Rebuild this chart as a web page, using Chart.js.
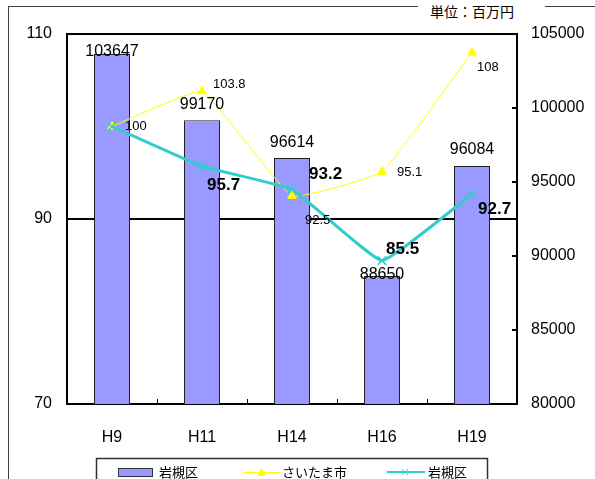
<!DOCTYPE html>
<html>
<head>
<meta charset="utf-8">
<script src="https://cdn.jsdelivr.net/npm/chart.js@4/dist/chart.umd.min.js"></script>
<style>
  html, body { margin: 0; padding: 0; background: #fff; overflow: hidden; }
  #wrap { position: relative; width: 595px; height: 479px; overflow: hidden; }
  #frame { position: absolute; left: 8px; top: 6px; width: 700px; height: 600px;
           border-top: 1px solid #404040; border-left: 1px solid #404040; }
  #unit { position: absolute; left: 418px; top: 0; width: 115px; height: 16px; padding: 4px 0 0 12px;
          background: #fff; font: 14px "Noto Sans CJK JP"; line-height: 14px; color: #000; }
  #chart { position: absolute; left: 0; top: 0; }
</style>
</head>
<body>
<div id="wrap">
  <div id="frame"></div>
  <div id="unit">単位：百万円</div>
  <canvas id="chart" width="595" height="479"></canvas>
</div>
<script>
// データ
const categories = ['H9', 'H11', 'H14', 'H16', 'H19'];
const seriesNames = ['岩槻区', 'さいたま市', '岩槻区'];
const iwatsukiAmount = [103647, 99170, 96614, 88650, 96084];   // 右軸 (百万円)
const saitamaIndex = [100, 103.8, 92.5, 95.1, 108];           // 左軸
const iwatsukiIndex = [100, 95.7, 93.2, 85.5, 92.7];           // 左軸
const leftTicks = [70, 90, 110];
const rightTicks = [80000, 85000, 90000, 95000, 100000, 105000];

const BAR_COLOR = '#9999ff';
const YELLOW = '#ffff00';
const CYAN = '#33cccc';

Chart.defaults.font.family = '"Liberation Sans", Arial, sans-serif';
Chart.defaults.font.size = 16;
Chart.defaults.color = '#000';

// 値ラベル (datalabels が無いので自前)
const valueLabels = {
    id: 'valueLabels',
    afterDatasetsDraw(chart, args, opts) {
        const ctx = chart.ctx;
        opts.sets.forEach(s => {
            const meta = chart.getDatasetMeta(s.index);
            const values = chart.data.datasets[s.index].data;
            ctx.save();
            ctx.font = s.font;
            ctx.fillStyle = '#000';
            ctx.textAlign = s.align;
            ctx.textBaseline = 'middle';
            meta.data.forEach((el, i) => {
                const off = s.shifts[i];
                if (!off) return;
                ctx.fillText(String(values[i]), el.x + off[0], el.y + off[1]);
            });
            ctx.restore();
        });
    }
};

// 目盛り線・凡例など
const extras = {
    id: 'extras',
    afterDraw(chart) {
        const ctx = chart.ctx;
        const area = chart.chartArea;
        const x = chart.scales.x;
        const y1 = chart.scales.y1;
        ctx.save();
        ctx.strokeStyle = '#000';

        // x軸の内向き目盛り
        ctx.lineWidth = 1;
        for (let i = 0; i < categories.length - 1; i++) {
            const px = Math.round((x.getPixelForValue(i) + x.getPixelForValue(i + 1)) / 2) + 0.5;
            ctx.beginPath();
            ctx.moveTo(px, area.bottom);
            ctx.lineTo(px, area.bottom - 5);
            ctx.stroke();
        }
        // 右軸の内向き目盛り
        ctx.lineWidth = 2;
        rightTicks.forEach(v => {
            const py = Math.round(y1.getPixelForValue(v));
            ctx.beginPath();
            ctx.moveTo(area.right - 5, py);
            ctx.lineTo(area.right, py);
            ctx.stroke();
        });

        // 凡例
        const ly = 472;
        ctx.strokeStyle = '#333';
        ctx.lineWidth = 1.5;
        ctx.strokeRect(96.5, 458.5, 391, 40);

        ctx.fillStyle = BAR_COLOR;
        ctx.fillRect(118, ly - 4, 35, 8);
        ctx.lineWidth = 1;
        ctx.strokeRect(118.5, ly - 3.5, 34, 8);

        ctx.strokeStyle = YELLOW;
        ctx.lineWidth = 1;
        ctx.beginPath(); ctx.moveTo(243, ly + 0.5); ctx.lineTo(280, ly + 0.5); ctx.stroke();
        ctx.fillStyle = YELLOW;
        ctx.beginPath();
        ctx.moveTo(261.5, ly - 4); ctx.lineTo(266, ly + 4); ctx.lineTo(257, ly + 4);
        ctx.closePath(); ctx.fill();

        ctx.strokeStyle = CYAN;
        ctx.lineWidth = 2;
        ctx.beginPath(); ctx.moveTo(387, ly); ctx.lineTo(425, ly); ctx.stroke();
        ctx.lineWidth = 1;
        ctx.beginPath();
        ctx.moveTo(402, ly - 3); ctx.lineTo(408, ly + 3);
        ctx.moveTo(408, ly - 3); ctx.lineTo(402, ly + 3);
        ctx.stroke();

        ctx.fillStyle = '#000';
        ctx.font = '13px "Noto Sans CJK JP"';
        ctx.textBaseline = 'middle';
        ctx.textAlign = 'left';
        ctx.fillText(seriesNames[0], 159, ly);
        ctx.fillText(seriesNames[1], 282, ly);
        ctx.fillText(seriesNames[2], 428, ly);
        ctx.restore();
    }
};

new Chart(document.getElementById('chart').getContext('2d'), {
    type: 'bar',
    data: {
        labels: categories,
        datasets: [
            {
                type: 'bar',
                label: seriesNames[0],
                data: iwatsukiAmount,
                yAxisID: 'y1',
                backgroundColor: BAR_COLOR,
                borderColor: '#222',
                borderWidth: 1,
                categoryPercentage: 1,
                barPercentage: 0.4,
                order: 3
            },
            {
                type: 'line',
                label: seriesNames[1],
                data: saitamaIndex,
                yAxisID: 'y',
                borderColor: YELLOW,
                borderWidth: 1,
                pointStyle: 'triangle',
                pointRadius: 5,
                pointBackgroundColor: YELLOW,
                pointBorderColor: YELLOW,
                tension: 0.1,
                order: 2
            },
            {
                type: 'line',
                label: seriesNames[2],
                data: iwatsukiIndex,
                yAxisID: 'y',
                borderColor: CYAN,
                borderWidth: 3,
                pointStyle: 'crossRot',
                pointRadius: 6,
                pointBorderWidth: 1.5,
                pointBorderColor: CYAN,
                tension: 0.1,
                order: 1
            }
        ]
    },
    options: {
        responsive: false,
        animation: false,
        layout: { padding: { top: 34, bottom: 35, left: 0, right: 0 } },
        plugins: {
            legend: { display: false },
            tooltip: { enabled: false },
            valueLabels: {
                sets: [
                    { index: 0, font: '16px "Liberation Sans"', align: 'center',
                      shifts: [[0, -2], [0, -16], [0, -16], [0, -1], [0, -16]] },
                    { index: 1, font: '13px "Liberation Sans"', align: 'left',
                      shifts: [[13, 0], [11, -7], [13, 25], [15, 1], [5, 15]] },
                    { index: 2, font: 'bold 17px "Liberation Sans"', align: 'left',
                      shifts: [null, [5, 19], [17, -15], [4, -11], [6, 15]] }
                ]
            }
        },
        scales: {
            x: {
                grid: { display: false },
                border: { display: false },
                ticks: { padding: 16, font: { size: 16 } },
                afterFit: s => { s.height = 40; }
            },
            y: {
                position: 'left',
                min: leftTicks[0],
                max: leftTicks[leftTicks.length - 1],
                ticks: { stepSize: leftTicks[1] - leftTicks[0], padding: 15 },
                grid: { color: '#000', lineWidth: 2, drawTicks: false },
                border: { color: '#000', width: 2 },
                afterFit: s => { s.width = 67; }
            },
            y1: {
                position: 'right',
                min: rightTicks[0],
                max: rightTicks[rightTicks.length - 1],
                ticks: {
                    stepSize: rightTicks[1] - rightTicks[0],
                    padding: 14,
                    callback: v => String(v)
                },
                grid: { drawOnChartArea: false, drawTicks: false },
                border: { color: '#000', width: 2 },
                afterFit: s => { s.width = 78; }
            }
        }
    },
    plugins: [valueLabels, extras]
});
</script>
</body>
</html>
